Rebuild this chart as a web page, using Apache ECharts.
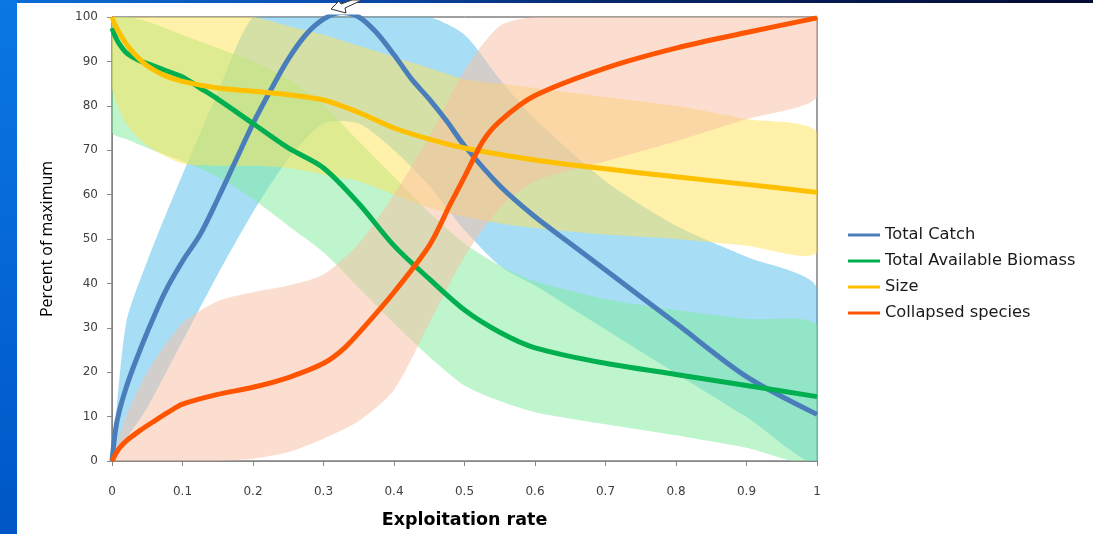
<!DOCTYPE html>
<html><head><meta charset="utf-8">
<script src="https://cdn.jsdelivr.net/npm/echarts@6/dist/echarts.min.js"></script>
<style>html,body{margin:0;padding:0;background:#fff;overflow:hidden}#c{width:1093px;height:534px}</style>
</head><body><div id="c"></div>
<script>
// ---- data ----
const seriesNames = ['Total Catch', 'Total Available Biomass', 'Size', 'Collapsed species'];
const xTicks = [0, 0.1, 0.2, 0.3, 0.4, 0.5, 0.6, 0.7, 0.8, 0.9, 1];

const catchX = [0,0.005,0.01,0.02,0.03,0.05,0.075,0.1,0.125,0.15,0.175,0.2,0.225,0.25,0.275,0.3,0.325,0.35,0.375,0.4,0.425,0.45,0.475,0.5,0.55,0.6,0.65,0.7,0.8,0.9,1];
const catchY = [0,7,11,16.5,21,29,38,45,51,59,67.5,76,83.5,90.5,96,99.5,101,100,96.5,91.5,86,81.5,76.5,71,62,55,49,43,31,19,10.5];

const biomassX = [0,0.005,0.01,0.02,0.035,0.05,0.075,0.1,0.125,0.15,0.2,0.25,0.3,0.35,0.4,0.45,0.5,0.55,0.6,0.7,0.8,0.9,1];
const biomassY = [97.5,95.5,94,92,90.5,89.5,88,86.5,84,81.5,76,70.5,66,58,48.5,41,34,29,25.5,22,19.5,17,14.5];

const sizeX = [0,0.005,0.01,0.02,0.03,0.05,0.075,0.1,0.15,0.2,0.25,0.3,0.35,0.4,0.45,0.5,0.6,0.7,0.8,0.9,1];
const sizeY = [100,98,96.5,94,92,89,86.8,85.5,84,83.3,82.5,81.3,78.5,75,72.5,70.5,67.8,65.8,64,62.3,60.5];

const collapsedX = [0,0.005,0.01,0.02,0.04,0.06,0.08,0.1,0.15,0.2,0.25,0.3,0.33,0.36,0.4,0.45,0.48,0.5,0.526,0.55,0.6,0.7,0.8,0.9,1];
const collapsedY = [0,1.5,2.8,4.5,6.9,9,11,12.8,15,16.6,18.8,22,25.5,30.6,38,48.5,57.9,64,72,76.5,82.3,88.5,93,96.5,99.8];

// uncertainty envelopes
const bandX = [0,0.02,0.05,0.1,0.15,0.2,0.25,0.3,0.35,0.4,0.45,0.5,0.55,0.6,0.7,0.8,0.9,1];
const catchLow  = [0,5,12,27,42,56,68,76,76,70,62,52,44,39.5,29.6,19.7,9.9,0];
const catchHigh = [0,31,45,64.5,83,100,100,100,100,100,100,96,86,77,63,53,46,39];
const biomassLow  = [74,72.5,70.5,67.5,64,59,53,47,39,31,23.5,17,13.5,11,8.3,5.8,3,0];
const biomassHigh = [100,100,99,96,93,90,86,80,72,64,56,49,44,40.5,36.5,34,32,30.5];
const sizeLow  = [84,76,71,67,66.5,66.5,66,64.5,63,60,57,55,53.5,52.5,51,50,48.5,47];
const sizeHigh = [100,100,100,100,100,100,98,96,93.5,91,88.5,86,85,84,82,80,77,74];
const collapsedLow  = [0,0,0,0,0,0.5,2,5,9,16,31,46,57,63,67.5,72,77,82];
const collapsedHigh = [0,10,20,31,36,38,39.5,42,49,60,73,88,98,100,100,100,100,100];

// ---- chart ----
const lineColors = ['#4a7ebb', '#00b050', '#ffc000', '#ff5500'];
const bandColors = ['rgba(81,189,235,0.5)', 'rgba(125,235,155,0.5)', 'rgba(255,225,85,0.5)', 'rgba(249,189,161,0.5)'];
const lines = [[catchX, catchY], [biomassX, biomassY], [sizeX, sizeY], [collapsedX, collapsedY]];
const bands = [[catchLow, catchHigh], [biomassLow, biomassHigh], [sizeLow, sizeHigh], [collapsedLow, collapsedHigh]];

const series = [];
bands.forEach((b, k) => {
  series.push({
    type: 'custom', name: 'band' + k, coordinateSystem: 'cartesian2d', silent: true, z: 1, clip: true,
    data: bandX.map((x, i) => [x, b[0][i], b[1][i]]),
    encode: { x: 0, y: [1, 2] },
    renderItem: function (params, api) {
      if (params.dataIndex !== 0) return null;
      const up = bandX.map((x, i) => api.coord([x, b[1][i]]));
      const lo = bandX.map((x, i) => api.coord([x, b[0][i]])).reverse();
      return {
        type: 'polygon',
        shape: { points: up.concat(lo), smooth: 0.25 },
        style: { fill: bandColors[k] }
      };
    }
  });
});
lines.forEach((l, k) => {
  series.push({
    type: 'line', name: seriesNames[k], smooth: 0.3, symbol: 'none', z: 5,
    lineStyle: { color: lineColors[k], width: 5 }, itemStyle: { color: lineColors[k] },
    data: l[0].map((x, i) => [x, l[1][i]])
  });
});

const chart = echarts.init(document.getElementById('c'), null, { renderer: 'canvas' });
chart.setOption({
  animation: false,
  backgroundColor: '#ffffff',
  graphic: [
    { type: 'rect', left: 0, top: 0, shape: { width: 1093, height: 3 }, z: 100,
      style: { fill: new echarts.graphic.LinearGradient(0, 0, 1, 0, [{ offset: 0, color: '#0a6ed6' }, { offset: 0.3, color: '#0a4fb0' }, { offset: 0.55, color: '#06286e' }, { offset: 1, color: '#050a30' }]) } },
    { type: 'rect', left: 0, top: 0, shape: { width: 17, height: 534 }, z: 100,
      style: { fill: new echarts.graphic.LinearGradient(0, 0, 0, 1, [{ offset: 0, color: '#0a78e2' }, { offset: 1, color: '#0056c6' }]) } },
    { type: 'polygon', z: 100, shape: { points: [[331, 9], [339, 1], [341, 4], [352, 0], [362, 0], [345, 8], [346, 13]] },
      style: { fill: '#ffffff', stroke: '#333333', lineWidth: 1 } }
  ],
  grid: { left: 112, right: 276, top: 17, bottom: 66, show: true, borderColor: '#404040', borderWidth: 1, backgroundColor: 'transparent' },
  legend: {
    data: seriesNames, orient: 'vertical', left: 843, top: 221, itemWidth: 32, itemHeight: 3, itemGap: 8,
    icon: 'rect',
    textStyle: { fontFamily: 'DejaVu Sans', fontSize: 16.3, color: '#1a1a1a', lineHeight: 18 }
  },
  xAxis: {
    type: 'value', min: 0, max: 1, interval: 0.1,
    name: 'Exploitation rate', nameLocation: 'middle', nameGap: 50,
    nameTextStyle: { fontFamily: 'DejaVu Sans', fontWeight: 'bold', fontSize: 17.5, color: '#000' },
    axisLine: { show: true, lineStyle: { color: '#868686', width: 1 } },
    axisTick: { show: true, length: 5, lineStyle: { color: '#868686' } },
    axisLabel: { margin: 25, fontFamily: 'DejaVu Sans', fontSize: 12, color: '#404040', formatter: v => String(+v.toFixed(1)) },
    splitLine: { show: false }
  },
  yAxis: {
    type: 'value', min: 0, max: 100, interval: 10,
    name: 'Percent of maximum', nameLocation: 'middle', nameGap: 57, nameRotate: 90,
    nameTextStyle: { fontFamily: 'Open Sans', fontSize: 16, color: '#000' },
    axisLine: { show: true, lineStyle: { color: '#868686', width: 1 } },
    axisTick: { show: true, length: 5, lineStyle: { color: '#868686' } },
    axisLabel: { margin: 14, fontFamily: 'DejaVu Sans', fontSize: 12, color: '#404040' },
    splitLine: { show: false }
  },
  series: series
});
</script></body></html>
